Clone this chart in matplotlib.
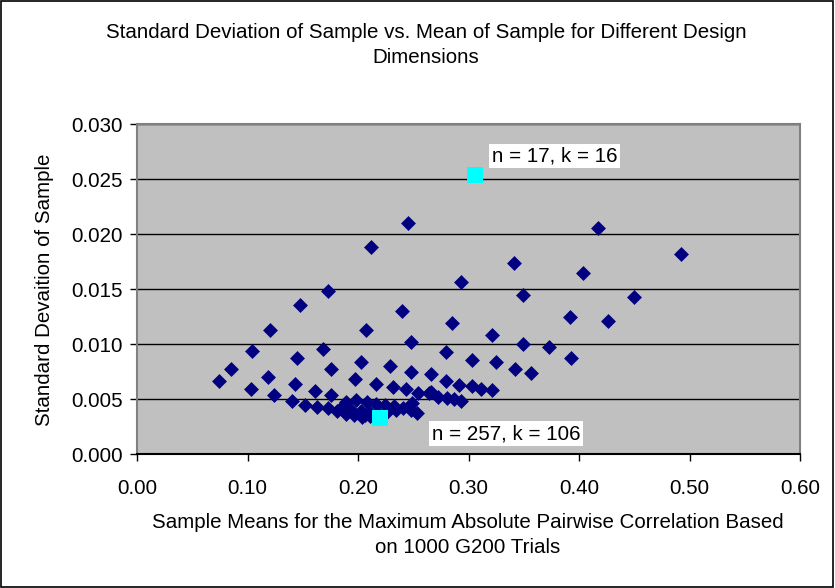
import matplotlib
matplotlib.use("Agg")
import matplotlib.pyplot as plt
from matplotlib.patches import Rectangle

plt.rcParams['font.family'] = ['Liberation Sans', 'DejaVu Sans']

# Sample means / std devs for the design dimensions
sample_mean = [
    0.2117, 0.2452, 0.2930, 0.1726, 0.1473, 0.2395, 0.1205, 0.2072, 0.2852,
    0.3217, 0.2479, 0.4171, 0.4927, 0.3409, 0.4033, 0.3493, 0.4502, 0.3921,
    0.4258, 0.3728, 0.3493, 0.3930, 0.3253, 0.3421, 0.3563, 0.3036, 0.2795,
    0.1040, 0.1452, 0.1684, 0.0850, 0.0738, 0.1187, 0.1753, 0.2030, 0.2289,
    0.2476, 0.2659, 0.1973, 0.1033, 0.1241, 0.1431, 0.1614, 0.1756, 0.2163,
    0.2313, 0.2431, 0.2539, 0.2795, 0.2915, 0.3036, 0.3117, 0.3217, 0.2641,
    0.2720, 0.2801, 0.2870, 0.2933, 0.2490, 0.2659,
    0.1407, 0.1524, 0.1627, 0.1729, 0.1808, 0.1889, 0.1961, 0.2033,
    0.1889, 0.1979, 0.2078, 0.2163, 0.2244, 0.2328, 0.2409, 0.2476, 0.2536,
    0.1850, 0.1940, 0.2030, 0.2110, 0.2190, 0.2260, 0.2340, 0.2110, 0.2060,
]
sample_sd = [
    0.01885, 0.02103, 0.01569, 0.01489, 0.01354, 0.01300, 0.01133, 0.01127, 0.01196,
    0.01085, 0.01021, 0.02060, 0.01824, 0.01736, 0.01648, 0.01451, 0.01433, 0.01251,
    0.01215, 0.00978, 0.01000, 0.00875, 0.00836, 0.00778, 0.00742, 0.00857, 0.00933,
    0.00939, 0.00878, 0.00955, 0.00775, 0.00666, 0.00700, 0.00773, 0.00839, 0.00803,
    0.00748, 0.00727, 0.00682, 0.00596, 0.00536, 0.00639, 0.00575, 0.00536, 0.00642,
    0.00615, 0.00591, 0.00555, 0.00666, 0.00627, 0.00624, 0.00594, 0.00585, 0.00555,
    0.00525, 0.00508, 0.00500, 0.00485, 0.00470, 0.00565,
    0.00485, 0.00448, 0.00427, 0.00421, 0.00391, 0.00366, 0.00357, 0.00342,
    0.00478, 0.00494, 0.00476, 0.00458, 0.00448, 0.00439, 0.00424, 0.00403, 0.00373,
    0.00420, 0.00405, 0.00390, 0.00375, 0.00370, 0.00385, 0.00400, 0.00345, 0.00360,
]

# highlighted designs
hl_mean = [0.3060, 0.2202]
hl_sd = [0.02536, 0.00327]
hl_text = ["n = 17, k = 16", "n = 257, k = 106"]

FS = 14.8

fig = plt.figure(figsize=(8.35, 5.88), dpi=100)
fig.patches.append(Rectangle((0.001, 0.001), 0.997, 0.997, transform=fig.transFigure,
                             fill=False, edgecolor='black', linewidth=1.2))

ax = fig.add_axes([137 / 835, 1 - 454.3 / 588, 663 / 835, 330 / 588])
ax.set_facecolor('#C0C0C0')
for s in ax.spines.values():
    s.set_color('#808080')
    s.set_linewidth(1.5)
ax.spines['bottom'].set_color('black')

ax.set_xlim(0, 0.6)
ax.set_ylim(0, 0.030)
ax.set_xticks([0.0, 0.1, 0.2, 0.3, 0.4, 0.5, 0.6])
ax.set_yticks([0.0, 0.005, 0.010, 0.015, 0.020, 0.025, 0.030])
ax.set_xticklabels(["%.2f" % v for v in ax.get_xticks()], fontsize=FS)
ax.set_yticklabels(["%.3f" % v for v in ax.get_yticks()], fontsize=FS)
ax.tick_params(direction='out', length=5, width=1, colors='black')
ax.tick_params(axis='x', pad=13)
ax.tick_params(axis='y', pad=5)
ax.yaxis.grid(True, color='black', linewidth=1)
ax.set_axisbelow(True)

ax.scatter(sample_mean, sample_sd, marker='D', s=7.6 ** 2, color='#000080',
           linewidths=0, zorder=3)
ax.scatter(hl_mean, hl_sd, marker='s', s=12 ** 2, color='#00FFFF',
           linewidths=0, zorder=4)

ax.annotate(hl_text[0], (hl_mean[0], hl_sd[0]), xytext=(12, 14),
            textcoords='offset points', fontsize=FS, va='center',
            bbox=dict(facecolor='white', edgecolor='none', pad=2))
ax.annotate(hl_text[1], (hl_mean[1], hl_sd[1]), xytext=(37, -11),
            textcoords='offset points', fontsize=FS, va='center',
            bbox=dict(facecolor='white', edgecolor='none', pad=2))

fig.text(426 / 835, 1 - 45 / 588,
         "Standard Deviation of Sample vs. Mean of Sample for Different Design\nDimensions",
         ha='center', va='center', fontsize=FS, linespacing=1.4)
fig.text(468 / 835, 1 - 535 / 588,
         "Sample Means for the Maximum Absolute Pairwise Correlation Based\non 1000 G200 Trials",
         ha='center', va='center', fontsize=FS, linespacing=1.44)
fig.text(45 / 835, 1 - 290 / 588, "Standard Devaition of Sample",
         ha='center', va='center', rotation=90, fontsize=FS)

fig.savefig("out.png", dpi=100)
